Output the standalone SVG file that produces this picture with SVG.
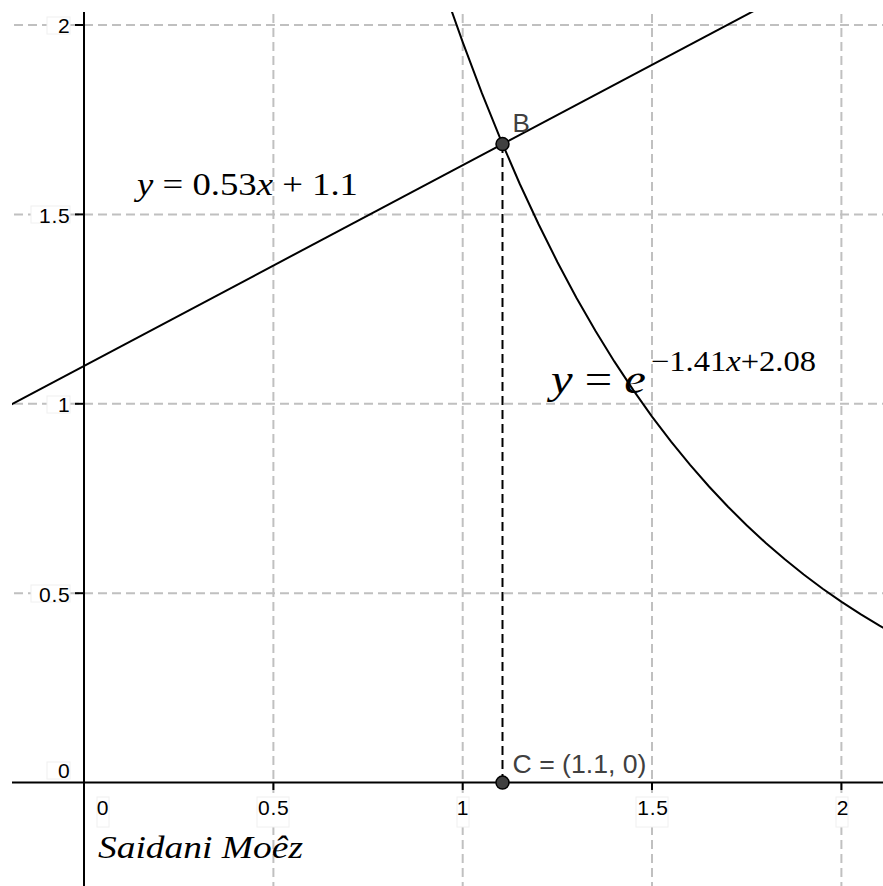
<svg xmlns="http://www.w3.org/2000/svg" width="883" height="886" viewBox="0 0 883 886">
<style>
.grid{stroke:#c0c0c0;stroke-width:2;stroke-dasharray:9 5;fill:none}
.axis{stroke:#000;stroke-width:2;fill:none}
.tick{stroke:#000;stroke-width:2}
.curve{stroke:#000;stroke-width:2;fill:none}
.lbl{font-family:"Liberation Sans",Arial,sans-serif;font-size:21px;letter-spacing:0.8px;fill:#000}
.lbox{fill:#fff;stroke:#f0f0f0;stroke-width:1}
.ptlbl{font-family:"Liberation Sans",Arial,sans-serif;font-size:26px;fill:#404040}
.pt{fill:#404040;stroke:#000;stroke-width:1.5}
.math{font-family:"Liberation Serif","Times New Roman",serif;fill:#000}
.it{font-style:italic}
</style>
<defs>
<clipPath id="plot"><rect x="12" y="12" width="871" height="874"/></clipPath>
</defs>
<rect x="0" y="0" width="883" height="886" fill="#fff"/>
<g id="grid" clip-path="url(#plot)">
<line class="grid" x1="273.4" y1="0" x2="273.4" y2="886"/>
<line class="grid" x1="462.7" y1="0" x2="462.7" y2="886"/>
<line class="grid" x1="652" y1="0" x2="652" y2="886"/>
<line class="grid" x1="841.4" y1="0" x2="841.4" y2="886"/>
<line class="grid" x1="0" y1="25" x2="883" y2="25"/>
<line class="grid" x1="0" y1="214.4" x2="883" y2="214.4"/>
<line class="grid" x1="0" y1="403.8" x2="883" y2="403.8"/>
<line class="grid" x1="0" y1="593.2" x2="883" y2="593.2"/>
</g>
<g id="axes" clip-path="url(#plot)">
<line class="axis" x1="84" y1="0" x2="84" y2="886"/>
<line class="axis" x1="0" y1="782.6" x2="883" y2="782.6"/>
<line class="tick" x1="75" y1="25" x2="84" y2="25"/>
<line class="tick" x1="75" y1="214.4" x2="84" y2="214.4"/>
<line class="tick" x1="75" y1="403.8" x2="84" y2="403.8"/>
<line class="tick" x1="75" y1="593.2" x2="84" y2="593.2"/>
<line class="tick" x1="273.4" y1="782.6" x2="273.4" y2="790"/>
<line class="tick" x1="462.7" y1="782.6" x2="462.7" y2="790"/>
<line class="tick" x1="652" y1="782.6" x2="652" y2="790"/>
<line class="tick" x1="841.4" y1="782.6" x2="841.4" y2="790"/>
</g>
<g id="axis-labels">
<rect class="lbox" x="47" y="17" width="23" height="17"/>
<text class="lbl" x="70.5" y="33" text-anchor="end">2</text>
<rect class="lbox" x="31" y="206" width="39" height="17"/>
<text class="lbl" x="70.5" y="223" text-anchor="end">1.5</text>
<rect class="lbox" x="47" y="396" width="23" height="17"/>
<text class="lbl" x="70.5" y="412" text-anchor="end">1</text>
<rect class="lbox" x="31" y="585" width="39" height="17"/>
<text class="lbl" x="70.5" y="601.5" text-anchor="end">0.5</text>
<rect class="lbox" x="47" y="762" width="23" height="17"/>
<text class="lbl" x="70.5" y="778" text-anchor="end">0</text>
<rect class="lbox" x="97" y="797" width="12" height="30"/>
<text class="lbl" x="103" y="815" text-anchor="middle">0</text>
<rect class="lbox" x="257" y="797" width="32" height="30"/>
<text class="lbl" x="273.8" y="815" text-anchor="middle">0.5</text>
<rect class="lbox" x="457" y="797" width="12" height="30"/>
<text class="lbl" x="463" y="815" text-anchor="middle">1</text>
<rect class="lbox" x="636" y="797" width="32" height="30"/>
<text class="lbl" x="653" y="815" text-anchor="middle">1.5</text>
<rect class="lbox" x="836" y="797" width="12" height="30"/>
<text class="lbl" x="843" y="815" text-anchor="middle">2</text>
</g>
<g id="connectors" clip-path="url(#plot)">
<line id="line" class="curve" x1="0" y1="410.44" x2="770" y2="2.34"/>
<polyline id="expcurve" class="curve" points="443.9,-11.8 451.4,10.3 462.8,42.3 481.7,92.7 500.7,139.7 519.6,183.5 538.6,224.2 557.5,262.2 576.4,297.7 595.4,330.7 614.3,361.4 633.3,390.1 652.2,416.8 671.1,441.7 690.1,464.9 709.0,486.5 728.0,506.7 746.9,525.5 765.8,543.0 784.8,559.3 803.7,574.5 822.7,588.7 841.6,601.9 860.5,614.2 879.5,625.6 898.4,636.3"/>
<line id="BC" x1="502.5" y1="144.1" x2="502.5" y2="782.6" stroke="#000" stroke-width="2" stroke-dasharray="9 5"/>
</g>
<g id="B">
<circle class="pt" cx="502.5" cy="144.1" r="6.5"/>
<text class="ptlbl" x="512.5" y="131.7">B</text>
</g>
<g id="C">
<circle class="pt" cx="502.5" cy="782.6" r="6.5"/>
<text class="ptlbl" x="512.5" y="772.7" textLength="134" lengthAdjust="spacingAndGlyphs">C = (1.1, 0)</text>
</g>
<g id="eq-line">
<text class="math" x="137" y="195" font-size="31" textLength="221" lengthAdjust="spacingAndGlyphs"><tspan class="it">y</tspan> = 0.53<tspan class="it">x</tspan> + 1.1</text>
</g>
<g id="eq-exp">
<text class="math" x="551" y="393" font-size="42" textLength="95" lengthAdjust="spacingAndGlyphs"><tspan class="it">y</tspan> = <tspan class="it">e</tspan></text>
<text class="math" x="651" y="371" font-size="29" textLength="165" lengthAdjust="spacingAndGlyphs">−1.41<tspan class="it">x</tspan>+2.08</text>
</g>
<g id="signature">
<text class="math it" x="98" y="858" font-size="32" textLength="205" lengthAdjust="spacingAndGlyphs">Saidani Moêz</text>
</g>
</svg>
